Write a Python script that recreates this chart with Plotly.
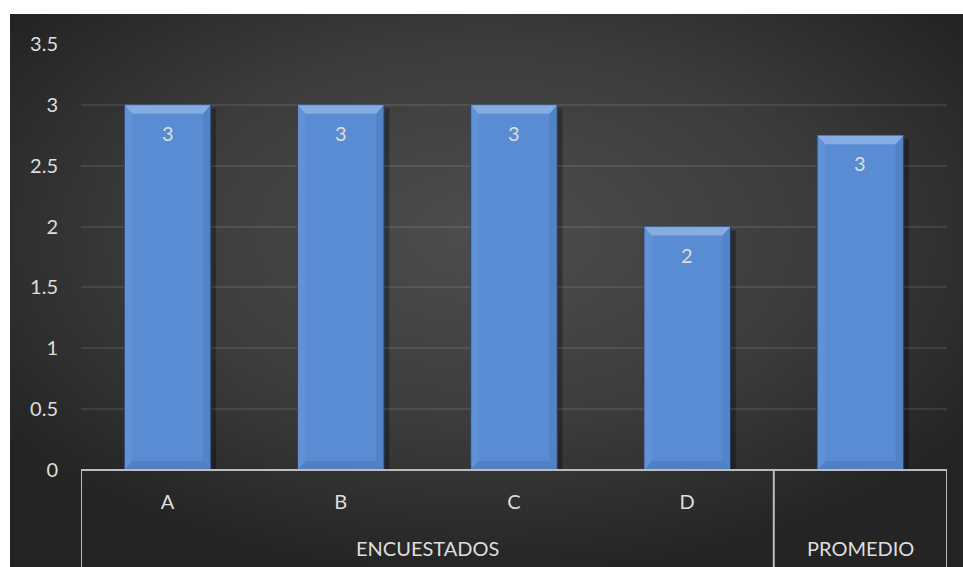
import base64
import plotly.graph_objects as go

# ---- data ----
categories = ["A", "B", "C", "D", "PROMEDIO"]
sub_labels = ["A", "B", "C", "D", ""]
groups = ["ENCUESTADOS", "ENCUESTADOS", "ENCUESTADOS", "ENCUESTADOS", "PROMEDIO"]
values = [3, 3, 3, 2, 2.75]
y_ticks = [0, 0.5, 1, 1.5, 2, 2.5, 3, 3.5]

W, H = 963, 567
L, R, T, B = 81, 16, 44, 97
pw, ph = W - L - R, H - T - B

FONT = "Lato"
TXT = "#dedede"
FS = 20

# background (radial gradient) as svg image
svg = ("<svg xmlns='http://www.w3.org/2000/svg' width='953' height='553' preserveAspectRatio='none'>"
       "<defs><radialGradient id='g' cx='0.5' cy='0.4' r='0.62'>"
       "<stop offset='0' stop-color='#4d4d4d'/><stop offset='0.55' stop-color='#3c3c3c'/>"
       "<stop offset='1' stop-color='#242424'/></radialGradient></defs>"
       "<rect width='953' height='553' fill='url(#g)'/></svg>")
src = "data:image/svg+xml;base64," + base64.b64encode(svg.encode()).decode()

def px2x(p):
    return (p - L) / pw

def px2y(p):
    return (H - B - p) / ph

fig = go.Figure()
fig.add_trace(go.Bar(
    x=categories, y=values, width=0.5,
    marker=dict(color="#5a8cd3", line=dict(color="#23406c", width=1)),
    hoverinfo="skip", showlegend=False,
))

shapes = []
annotations = []
bw = 0.25
bx = 8 / (pw / 5)
by = 9 / (ph / 3.5)
for i, v in enumerate(values):
    # soft shadow
    shapes.append(dict(type="rect", layer="below", xref="x", yref="y",
                       x0=i - bw + 0.02, x1=i + bw + 0.03, y0=0, y1=v - 0.03,
                       fillcolor="rgba(0,0,0,0.30)", line=dict(width=0)))
    # bevel: left, right, bottom, top
    shapes.append(dict(type="path", xref="x", yref="y", layer="above",
                       path=f"M {i-bw},{v} L {i-bw+bx},{v-by} L {i-bw+bx},{by} L {i-bw},0 Z",
                       fillcolor="rgba(255,255,255,0.05)", line=dict(width=0)))
    shapes.append(dict(type="path", xref="x", yref="y", layer="above",
                       path=f"M {i+bw},{v} L {i+bw-bx},{v-by} L {i+bw-bx},{by} L {i+bw},0 Z",
                       fillcolor="rgba(0,20,60,0.08)", line=dict(width=0)))
    shapes.append(dict(type="path", xref="x", yref="y", layer="above",
                       path=f"M {i-bw},0 L {i-bw+bx},{by} L {i+bw-bx},{by} L {i+bw},0 Z",
                       fillcolor="rgba(0,20,60,0.10)", line=dict(width=0)))
    shapes.append(dict(type="path", xref="x", yref="y", layer="above",
                       path=f"M {i-bw},{v} L {i+bw},{v} L {i+bw-bx},{v-by} L {i-bw+bx},{v-by} Z",
                       fillcolor="rgba(200,220,250,0.40)", line=dict(width=0)))
    # value label
    annotations.append(dict(x=i, y=v, xref="x", yref="y", text=f"{v:.0f}",
                            showarrow=False, yshift=-28,
                            font=dict(family=FONT, size=FS, color=TXT)))

# category axis lines and dividers
line_col = "#bcbcbc"
shapes.append(dict(type="line", xref="paper", yref="paper", x0=0, x1=1, y0=0, y1=0,
                   line=dict(color=line_col, width=2), layer="above"))
group_names = []
for g in groups:
    if g not in group_names:
        group_names.append(g)
bounds = [-0.5]
for g in group_names:
    idx = [k for k, gg in enumerate(groups) if gg == g]
    bounds.append(max(idx) + 0.5)
    annotations.append(dict(x=sum(idx) / len(idx), y=px2y(548), xref="x", yref="paper",
                            text=g, showarrow=False, yanchor="middle",
                            font=dict(family=FONT, size=FS, color=TXT)))
for b in bounds:
    shapes.append(dict(type="line", xref="x", yref="paper", x0=b, x1=b,
                       y0=0, y1=px2y(H), line=dict(color=line_col, width=2)))

fig.update_layout(
    width=W, height=H,
    margin=dict(l=L, r=R, t=T, b=B),
    paper_bgcolor="white", plot_bgcolor="rgba(0,0,0,0)",
    bargap=0.5,
    shapes=shapes, annotations=annotations,
    images=[dict(source=src, xref="paper", yref="paper",
                 x=px2x(10), y=px2y(14), sizex=px2x(W) - px2x(10), sizey=px2y(14) - px2y(H),
                 xanchor="left", yanchor="top", sizing="stretch", layer="below")],
    xaxis=dict(type="category", tickmode="array", tickvals=categories, ticktext=sub_labels,
               range=[-0.5, 4.5], showgrid=False, zeroline=False, showline=False,
               ticks="", ticklabelstandoff=18,
               tickfont=dict(family=FONT, size=FS, color=TXT)),
    yaxis=dict(range=[0, 3.5], tickvals=y_ticks, ticktext=[f"{t:g}" for t in y_ticks],
               showgrid=True, gridcolor="rgba(255,255,255,0.09)", gridwidth=1.5,
               zeroline=False, showline=False, ticks="", ticklabelstandoff=22,
               tickfont=dict(family=FONT, size=FS, color=TXT)),
)

fig.write_html("out.html")
